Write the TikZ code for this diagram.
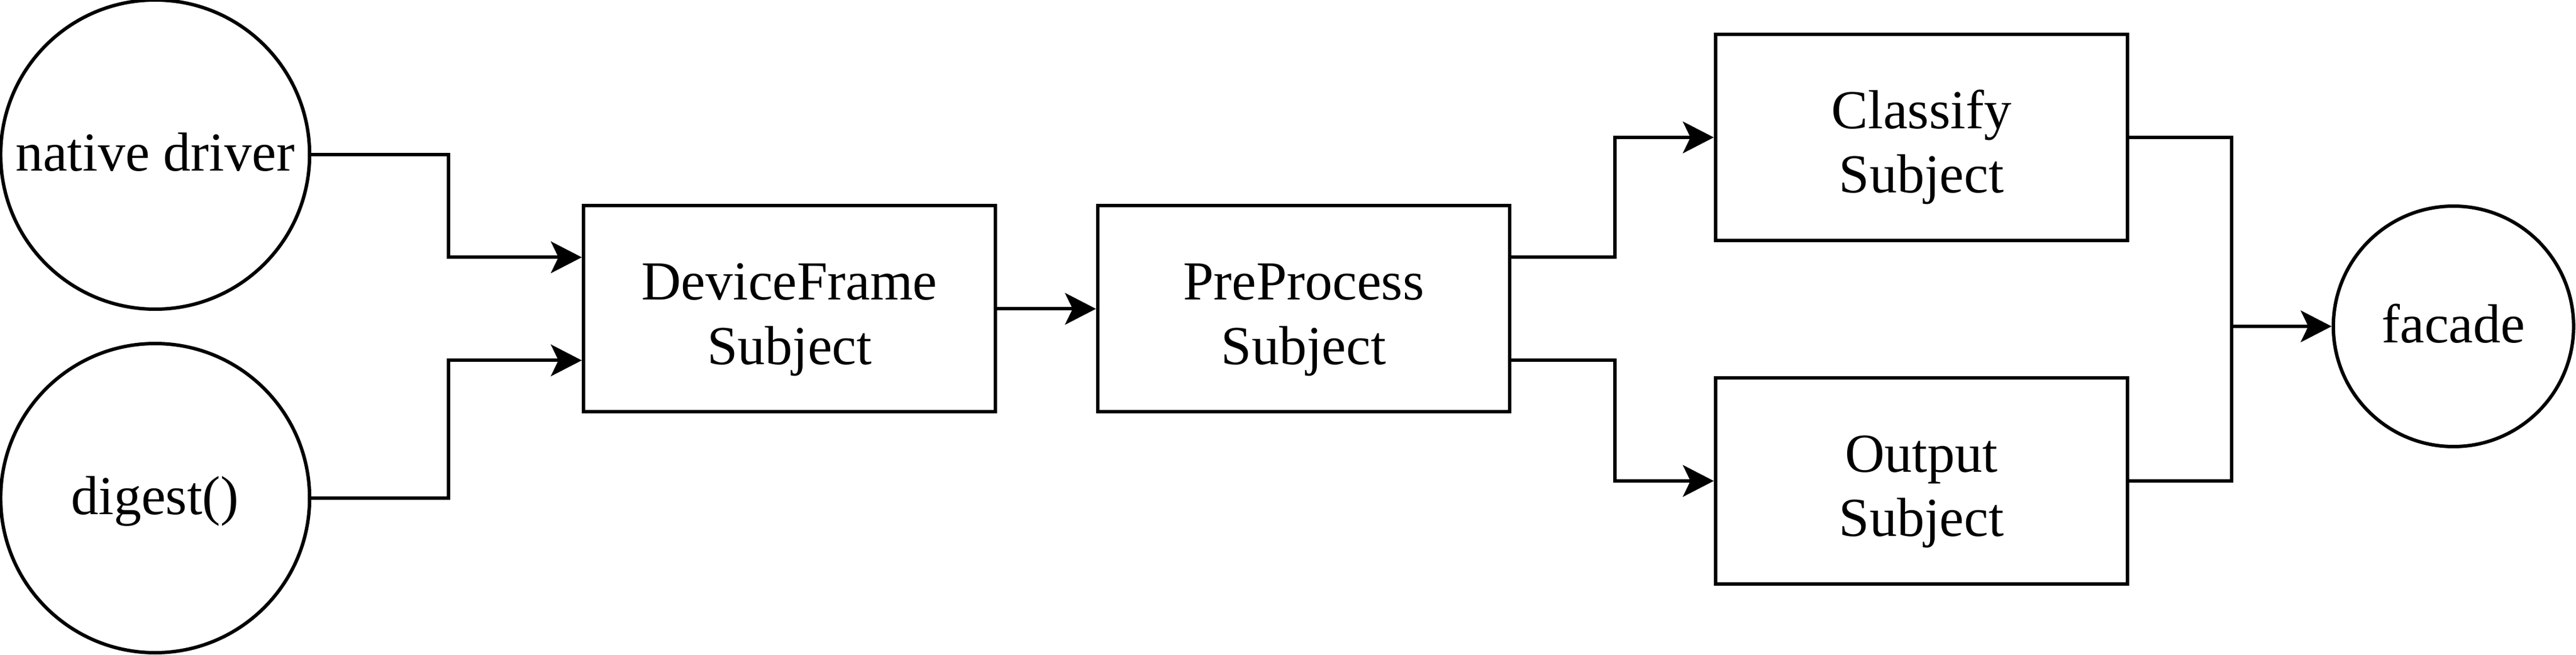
\documentclass[tikz,border=0pt]{standalone}
\usepackage{fontspec}
\setmainfont{Liberation Serif}
\usetikzlibrary{arrows.meta,calc}
\newcommand\lowtext[2]{\raisebox{-#1}[\height][\depth]{\begin{tabular}{@{}c@{}}#2\end{tabular}}}
\begin{document}
\begin{tikzpicture}[x=1pt,y=1pt,
  every node/.style={font=\fontsize{16}{18.8}\selectfont, line width=1pt},
  circ/.style={draw, circle, inner sep=0pt},
  stepbox/.style={draw, rectangle, minimum width=120pt, minimum height=60pt, inner sep=0pt},
  arr/.style={draw, line width=1pt, -{Stealth[length=9pt,width=9.2pt,inset=2.2pt]}},
  ln/.style={draw, line width=1pt}]
\useasboundingbox (0,0) rectangle (750.5,190.5);
\node[circ, minimum size=90pt] (nd) at (45.2,145.5) {\lowtext{1pt}{native driver}};
\node[circ, minimum size=90pt] (dg) at (45.2,45.5) {\lowtext{1pt}{digest()}};
\node[stepbox] (df) at (230,100.6) {\lowtext{3pt}{DeviceFrame\\Subject}};
\node[stepbox] (pp) at (379.8,100.6) {\lowtext{3pt}{PreProcess\\Subject}};
\node[stepbox] (cs) at (559.8,150.5) {\lowtext{3pt}{Classify\\Subject}};
\node[stepbox] (os) at (559.8,50.5) {\lowtext{3pt}{Output\\Subject}};
\node[circ, minimum size=70pt] (fc) at (714.8,95.5) {\lowtext{1pt}{facade}};
\coordinate (m) at (650.2,95.5);
\draw[arr] (nd.east) -- ++(40,0) |- ([yshift=15pt]df.west);
\draw[arr] (dg.east) -- ++(40,0) |- ([yshift=-15pt]df.west);
\draw[arr] (df.east) -- (pp.west);
\draw[arr] ([yshift=15pt]pp.east) -- ++(30.2,0) |- (cs.west);
\draw[arr] ([yshift=-15pt]pp.east) -- ++(30.2,0) |- (os.west);
\draw[ln] (cs.east) -| (m);
\draw[ln] (os.east) -| (m);
\draw[arr] (m) -- (fc.west);
\end{tikzpicture}
\end{document}
